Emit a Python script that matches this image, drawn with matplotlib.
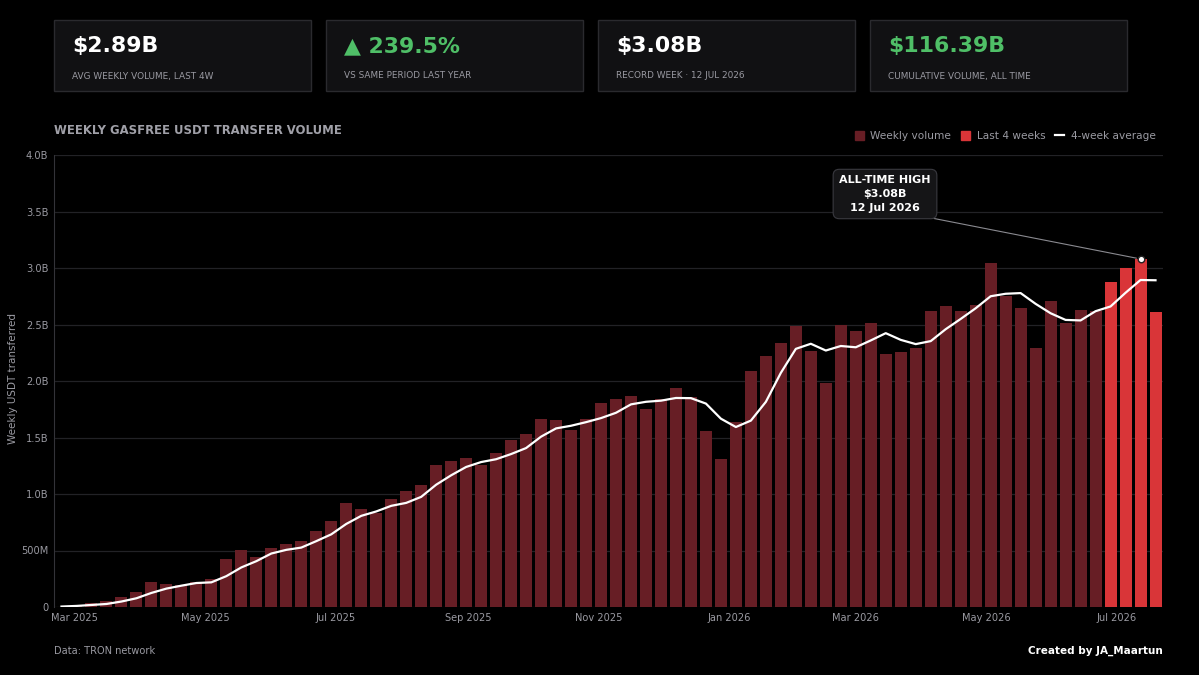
import matplotlib
matplotlib.use("Agg")
import matplotlib.pyplot as plt
import matplotlib.dates as mdates
from matplotlib.patches import FancyBboxPatch, Patch
from matplotlib.lines import Line2D
import pandas as pd

# weekly volume, billions USDT (week ending Sunday)
first_week = "2025-02-23"
volume_b = [
    0.004, 0.015, 0.035, 0.053, 0.091, 0.130, 0.224, 0.206, 0.195, 0.224,
    0.248, 0.425, 0.504, 0.445, 0.519, 0.555, 0.584, 0.673, 0.760, 0.923,
    0.870, 0.829, 0.959, 1.027, 1.083, 1.260, 1.292, 1.322, 1.257, 1.360,
    1.475, 1.534, 1.661, 1.652, 1.569, 1.661, 1.805, 1.840, 1.867, 1.752,
    1.845, 1.935, 1.861, 1.560, 1.310, 1.640, 2.088, 2.224, 2.336, 2.490,
    2.268, 1.985, 2.496, 2.445, 2.510, 2.242, 2.259, 2.295, 2.616, 2.664,
    2.622, 2.673, 3.041, 2.752, 2.646, 2.292, 2.708, 2.516, 2.628, 2.619,
    2.876, 3.000, 3.080, 2.610,
]

kpi_values = ["$2.89B", "\u25B2 239.5%", "$3.08B", "$116.39B"]
kpi_labels = ["AVG WEEKLY VOLUME, LAST 4W", "VS SAME PERIOD LAST YEAR",
              "RECORD WEEK \u00B7 12 JUL 2026", "CUMULATIVE VOLUME, ALL TIME"]
kpi_green = [False, True, False, True]

ytick_vals = [0, 0.5, 1.0, 1.5, 2.0, 2.5, 3.0, 3.5, 4.0]
ytick_text = ["0", "500M", "1.0B", "1.5B", "2.0B", "2.5B", "3.0B", "3.5B", "4.0B"]

BG = "#000000"
DARK_RED = "#671e25"
BRIGHT_RED = "#d93538"
GREY = "#9a9aa2"
GREEN = "#4fbf67"

weeks = pd.date_range(first_week, periods=len(volume_b), freq="7D")
s = pd.Series(volume_b, index=weeks)
avg4 = s.rolling(4, min_periods=1).mean()

W, H = 1199, 675
fig = plt.figure(figsize=(W / 100, H / 100), dpi=100, facecolor=BG)


def px(x0, y0, x1, y1):
    return [x0 / W, 1 - y1 / H, (x1 - x0) / W, (y1 - y0) / H]


# KPI cards
card_x = [54, 326, 598, 870]
for cx, val, lab, g in zip(card_x, kpi_values, kpi_labels, kpi_green):
    fig.patches.append(FancyBboxPatch((cx / W, 1 - 91 / H), 257 / W, 71 / H,
                                      boxstyle="square,pad=0", transform=fig.transFigure,
                                      facecolor="#111113", edgecolor="#2a2a2e", lw=1))
    fig.text((cx + 18) / W, 1 - 46 / H, val, color=GREEN if g else "white",
             fontsize=15.8, fontweight="bold", va="center", ha="left")
    fig.text((cx + 18) / W, 1 - 76 / H, lab, color=GREY, fontsize=6.4,
             va="center", ha="left")

fig.text(54 / W, 1 - 131 / H, "WEEKLY GASFREE USDT TRANSFER VOLUME", color="#a0a0a8",
         fontsize=8.4, fontweight="bold", va="center", ha="left")

ax = fig.add_axes(px(54, 155, 1163, 607))
ax.set_facecolor(BG)

colors = [DARK_RED] * (len(volume_b) - 4) + [BRIGHT_RED] * 4
ax.bar(weeks, volume_b, width=5.6, color=colors, zorder=2)
ax.plot(weeks, avg4.values, color="white", lw=1.6, zorder=3)

# all-time high marker
ath_i = max(range(len(volume_b)), key=lambda i: volume_b[i])
ax.scatter([weeks[ath_i]], [volume_b[ath_i]], s=22, color="white",
           edgecolor="#222", linewidth=1, zorder=5)
ax.annotate("ALL-TIME HIGH\n$3.08B\n12 Jul 2026",
            xy=(weeks[ath_i], volume_b[ath_i]), xycoords="data",
            xytext=(885, H - 194), textcoords="figure pixels",
            ha="center", va="center", color="white", fontsize=8,
            fontweight="bold", linespacing=1.45,
            bbox=dict(boxstyle="round,pad=0.55", fc="#151517", ec="#3a3a40", lw=0.8),
            arrowprops=dict(arrowstyle="-", color="#8a8a90", lw=0.8,
                            relpos=(0.5, 0.1), shrinkA=0, shrinkB=3),
            zorder=6)

ax.set_ylim(0, 4.0)
ax.set_xlim(weeks[0] - pd.Timedelta(days=3.5), weeks[-1] + pd.Timedelta(days=3.5))
ax.set_yticks(ytick_vals)
ax.set_yticklabels(ytick_text)
ax.grid(axis="y", color="#222226", lw=0.9, zorder=0)
ax.xaxis.set_major_locator(mdates.MonthLocator(bymonth=[1, 3, 5, 7, 9, 11]))
ax.xaxis.set_major_formatter(mdates.DateFormatter("%b %Y"))
ax.tick_params(colors=GREY, labelsize=7.1, length=0, pad=4)
for side in ["top", "right", "bottom"]:
    ax.spines[side].set_visible(False)
ax.spines["left"].set_color("#333338")
fig.text(13 / W, 1 - 378 / H, "Weekly USDT transferred", color=GREY, fontsize=7.5,
         rotation=90, va="center", ha="center")

handles = [Patch(color=DARK_RED, label="Weekly volume"),
           Patch(color=BRIGHT_RED, label="Last 4 weeks"),
           Line2D([0], [0], color="white", lw=1.6, label="4-week average")]
fig.legend(handles=handles, loc="center right", bbox_to_anchor=(1165 / W, 1 - 136 / H),
           ncol=3, frameon=False, fontsize=7.6, labelcolor=GREY,
           handlelength=0.9, handleheight=0.9, handletextpad=0.6, columnspacing=0.9)

fig.text(54 / W, 1 - 651 / H, "Data: TRON network", color=GREY, fontsize=7.1,
         va="center", ha="left")
fig.text(1163 / W, 1 - 651 / H, "Created by JA_Maartun", color="white", fontsize=7.5,
         fontweight="bold", va="center", ha="right")

fig.savefig("out.png", dpi=100, facecolor=BG)
